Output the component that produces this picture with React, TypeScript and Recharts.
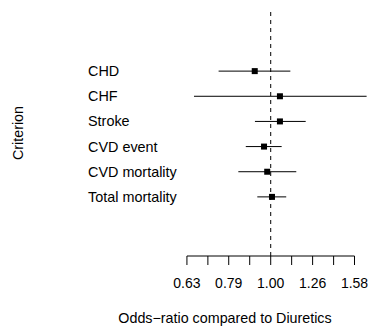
import {
  ScatterChart, Scatter, ErrorBar, XAxis, YAxis, ReferenceLine,
} from "recharts";

const FONT = "'Liberation Sans', Arial, Helvetica, sans-serif";

// criteria, top to bottom
const criteria = ["CHD", "CHF", "Stroke", "CVD event", "CVD mortality", "Total mortality"];
// odds ratios and 95% CI
const oddsRatio = [0.916, 1.052, 1.052, 0.964, 0.981, 1.007];
const ciLow = [0.751, 0.656, 0.917, 0.872, 0.837, 0.929];
const ciHigh = [1.114, 1.694, 1.212, 1.062, 1.151, 1.089];

// axis ticks (odds-ratio scale, log spaced); only every other one is labelled
const tickValues = [0.631, 0.708, 0.794, 0.891, 1, 1.122, 1.259, 1.413, 1.585];

const lg = (v: number) => Math.log10(v);

const data = criteria.map((name, i) => ({
  name,
  y: i,
  x: lg(oddsRatio[i]),
  err: [lg(oddsRatio[i]) - lg(ciLow[i]), lg(ciHigh[i]) - lg(oddsRatio[i])],
}));

function Square(props: any) {
  const { cx, cy } = props;
  if (cx == null || cy == null) return null;
  return <rect x={cx - 3} y={cy - 3} width={6} height={6} fill="#000" />;
}

function RowTick(props: any) {
  const { y, payload } = props;
  return (
    <text x={88} y={y + 5} textAnchor="start" fontSize={14.4} fontFamily={FONT} style={{ fill: "#000" }}>
      {criteria[payload.value]}
    </text>
  );
}

export default function App() {
  const xTicks = tickValues.map(lg);
  return (
    <div style={{ position: "absolute", left: 0, top: 0, width: 370, height: 329, background: "#fff" }}>
      <ScatterChart width={370} height={329} margin={{ top: 12, right: 0, bottom: 0, left: 0 }}>
        <XAxis
          type="number"
          dataKey="x"
          domain={[-0.2165, 0.237]}
          ticks={xTicks}
          interval={0}
          height={73}
          axisLine={false}
          tickLine={{ stroke: "#000" }}
          tickSize={9}
          tickMargin={13}
          tick={{ fontSize: 14, fontFamily: FONT, fill: "#000" }}
          tickFormatter={(v: number, i: number) => (i % 2 === 0 ? Math.pow(10, v).toFixed(2) : "")}
          label={{
            content: () => (
              <text x={225} y={323} textAnchor="middle" fontSize={14.3} fontFamily={FONT} style={{ fill: "#000" }}>
                Odds−ratio compared to Diuretics
              </text>
            ),
          }}
        />
        <YAxis
          type="number"
          dataKey="y"
          domain={[-2.35, 7.35]}
          reversed
          ticks={[0, 1, 2, 3, 4, 5]}
          interval={0}
          width={180}
          axisLine={false}
          tickLine={false}
          tick={<RowTick />}
          label={{
            content: () => (
              <text
                x={23}
                y={133}
                transform="rotate(-90, 23, 133)"
                textAnchor="middle"
                fontSize={14.3}
                fontFamily={FONT}
                style={{ fill: "#000" }}
              >
                Criterion
              </text>
            ),
          }}
        />
        <ReferenceLine
          segment={[{ x: xTicks[0], y: 7.35 }, { x: xTicks[xTicks.length - 1], y: 7.35 }]}
          stroke="#000"
          strokeWidth={1}
          ifOverflow="visible"
        />
        <ReferenceLine x={0} stroke="#000" strokeWidth={1} strokeDasharray="4 4" />
        <Scatter data={data} shape={<Square />} isAnimationActive={false}>
          <ErrorBar dataKey="err" direction="x" width={0} stroke="#000" strokeWidth={1} />
        </Scatter>
      </ScatterChart>
    </div>
  );
}
